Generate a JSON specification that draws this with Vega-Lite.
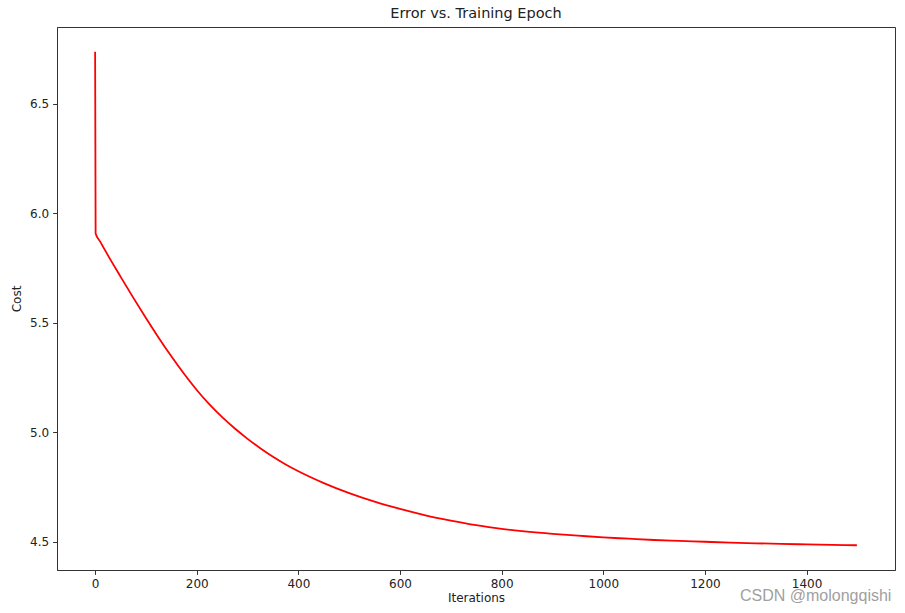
{
  "$schema": "https://vega.github.io/schema/vega-lite/v6.json",
  "width": 838,
  "height": 543,
  "autosize": {"type": "none"},
  "padding": {"left": 57, "top": 27, "right": 10, "bottom": 43},
  "background": "white",
  "config": {
    "font": "DejaVu Sans",
    "view": {"stroke": "#333333", "strokeWidth": 1},
    "axis": {
      "grid": false,
      "domainColor": "#333333",
      "tickColor": "#333333",
      "tickSize": 4.4,
      "labelFont": "DejaVu Sans",
      "labelFontSize": 12,
      "labelColor": "#222222",
      "titleFont": "DejaVu Sans",
      "titleFontSize": 12,
      "titleFontWeight": "normal",
      "titleColor": "#222222",
      "labelPadding": 4
    }
  },
  "title": {
    "text": "Error vs. Training Epoch",
    "fontSize": 14.5,
    "fontWeight": "normal",
    "font": "DejaVu Sans",
    "color": "#222222",
    "anchor": "middle",
    "offset": 6
  },
  "data": {
    "values": [
      {"iter": 0, "cost": 6.737},
      {"iter": 1, "cost": 5.907},
      {"iter": 10, "cost": 5.870},
      {"iter": 25, "cost": 5.808},
      {"iter": 50, "cost": 5.710},
      {"iter": 75, "cost": 5.614},
      {"iter": 100, "cost": 5.521},
      {"iter": 125, "cost": 5.431},
      {"iter": 150, "cost": 5.346},
      {"iter": 175, "cost": 5.266},
      {"iter": 200, "cost": 5.192},
      {"iter": 225, "cost": 5.126},
      {"iter": 250, "cost": 5.068},
      {"iter": 275, "cost": 5.016},
      {"iter": 300, "cost": 4.969},
      {"iter": 325, "cost": 4.926},
      {"iter": 350, "cost": 4.887},
      {"iter": 375, "cost": 4.852},
      {"iter": 400, "cost": 4.821},
      {"iter": 450, "cost": 4.767},
      {"iter": 500, "cost": 4.721},
      {"iter": 550, "cost": 4.682},
      {"iter": 600, "cost": 4.649},
      {"iter": 650, "cost": 4.620},
      {"iter": 700, "cost": 4.596},
      {"iter": 750, "cost": 4.575},
      {"iter": 800, "cost": 4.558},
      {"iter": 850, "cost": 4.545},
      {"iter": 900, "cost": 4.535},
      {"iter": 950, "cost": 4.527},
      {"iter": 1000, "cost": 4.519},
      {"iter": 1050, "cost": 4.513},
      {"iter": 1100, "cost": 4.507},
      {"iter": 1150, "cost": 4.503},
      {"iter": 1200, "cost": 4.499},
      {"iter": 1250, "cost": 4.495},
      {"iter": 1300, "cost": 4.492},
      {"iter": 1350, "cost": 4.489},
      {"iter": 1400, "cost": 4.487},
      {"iter": 1450, "cost": 4.485},
      {"iter": 1499, "cost": 4.483}
    ]
  },
  "layer": [
    {
      "mark": {"type": "line", "color": "#ff0000", "strokeWidth": 1.8, "interpolate": "monotone"},
      "encoding": {
        "x": {
          "field": "iter",
          "type": "quantitative",
          "title": "Iterations",
          "scale": {"domain": [-75, 1574], "nice": false, "zero": false},
          "axis": {"values": [0, 200, 400, 600, 800, 1000, 1200, 1400], "format": "d", "titlePadding": 3}
        },
        "y": {
          "field": "cost",
          "type": "quantitative",
          "title": "Cost",
          "scale": {"domain": [4.37, 6.85], "nice": false, "zero": false},
          "axis": {"values": [4.5, 5.0, 5.5, 6.0, 6.5], "format": ".1f", "titlePadding": 6}
        }
      }
    },
    {
      "data": {"values": [{}]},
      "mark": {"type": "text", "text": "CSDN @molongqishi", "font": "Liberation Sans", "fontSize": 16, "color": "#a0a0a0", "clip": false, "align": "center", "baseline": "middle"},
      "encoding": {
        "x": {"datum": 1418, "type": "quantitative"},
        "y": {"datum": 4.252, "type": "quantitative"}
      }
    }
  ]
}
